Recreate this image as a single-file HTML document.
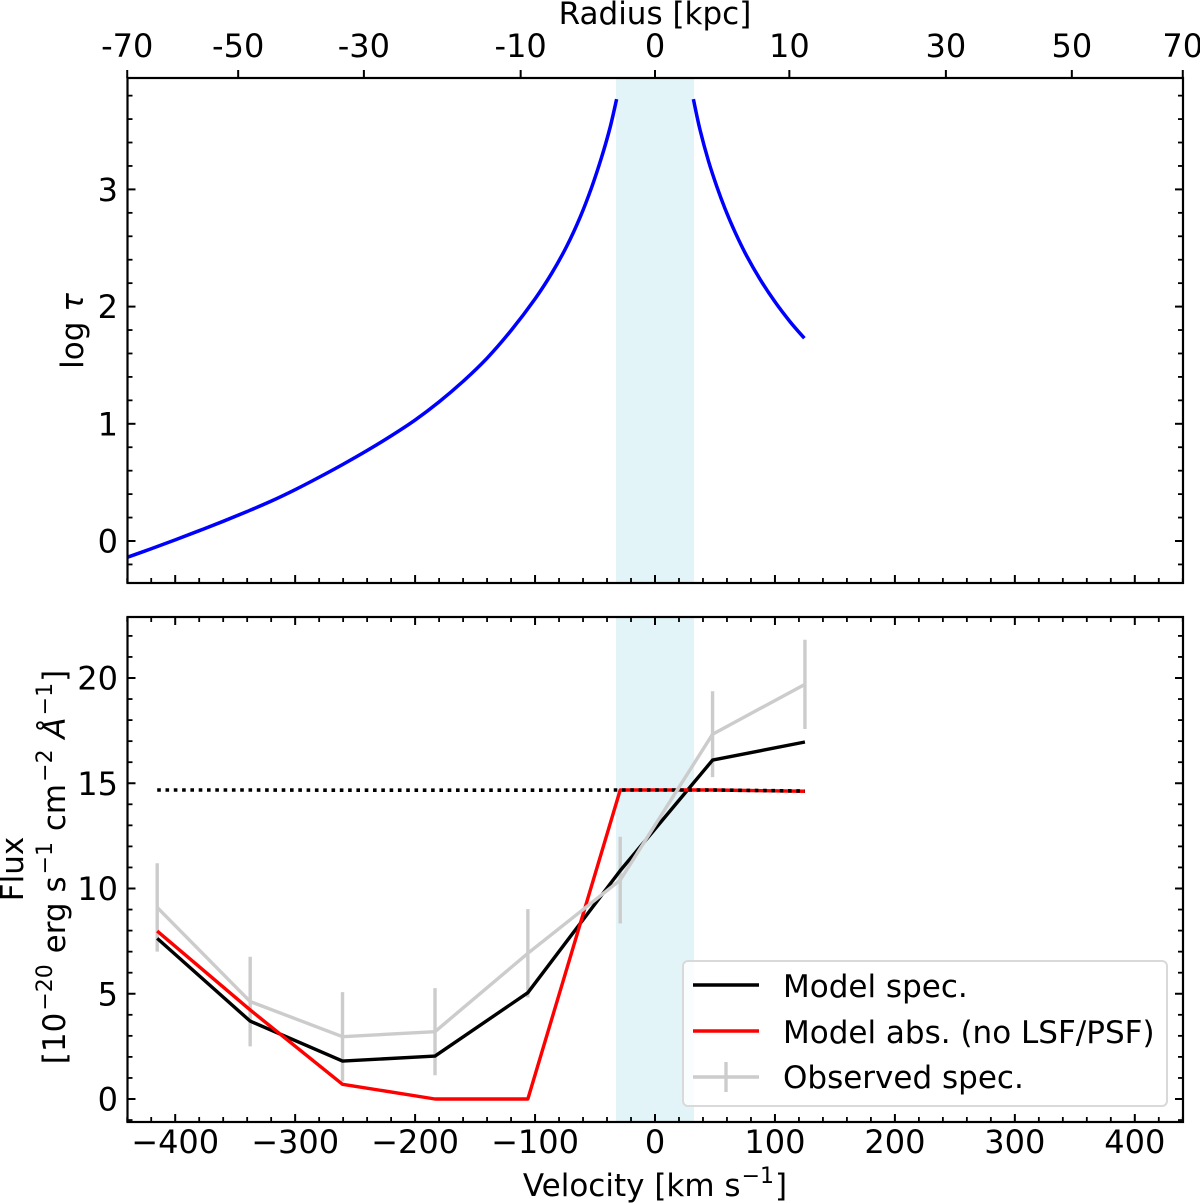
<!DOCTYPE html>
<html lang="en">
<head>
<meta charset="utf-8">
<title>Optical depth and flux versus velocity</title>
<style>
html,body{margin:0;padding:0;background:#fff;}
svg{display:block;}
text{font-family:"DejaVu Sans","Liberation Sans",sans-serif;font-size:32px;fill:#000;}
text.lab{font-size:31px;}
</style>
</head>
<body>
<svg id="chart" xmlns="http://www.w3.org/2000/svg" width="1200" height="1203" viewBox="0 0 1200 1203">
  <g id="layer-shade"></g>
  <g id="layer-series"></g>
  <g id="layer-axes"></g>
  <g id="layer-labels">
    <text class="lab" x="655" y="24" text-anchor="middle">Radius [kpc]</text>
    <text class="lab" x="655" y="1196" text-anchor="middle">Velocity [km s<tspan dy="-13" dx="1" font-size="22">−1</tspan><tspan dy="13" dx="1">]</tspan></text>
    <text class="lab" transform="translate(83,331) rotate(-90)" text-anchor="middle">log <tspan font-style="italic">τ</tspan></text>
    <text class="lab" transform="translate(23,869) rotate(-90)" text-anchor="middle">Flux</text>
    <text class="lab" transform="translate(65,867) rotate(-90)" text-anchor="middle">[10<tspan dy="-13" dx="2" font-size="22">−20</tspan><tspan dy="13" dx="1"> erg s</tspan><tspan dy="-13" dx="2" font-size="22">−1</tspan><tspan dy="13" dx="1"> cm</tspan><tspan dy="-13" dx="2" font-size="22">−2</tspan><tspan dy="13" font-style="italic" dx="1"> Å</tspan><tspan dy="-13" dx="2" font-size="22">−1</tspan><tspan dy="13" dx="1">]</tspan></text>
  </g>
  <g id="legend">
    <rect x="683" y="961" width="484" height="145" rx="5" ry="5" fill="#fff" fill-opacity="0.8" stroke="#d9d9d9" stroke-width="2"/>
    <line x1="693" y1="985" x2="759" y2="985" stroke="#000" stroke-width="3.4"/>
    <text class="lab" x="783" y="997">Model spec.</text>
    <line x1="693" y1="1031" x2="759" y2="1031" stroke="#f00" stroke-width="3.4"/>
    <text class="lab" x="783" y="1043">Model abs. (no LSF/PSF)</text>
    <line x1="693" y1="1077" x2="759" y2="1077" stroke="#ccc" stroke-width="3.4"/>
    <line x1="726" y1="1062" x2="726" y2="1092" stroke="#ccc" stroke-width="3.4"/>
    <text class="lab" x="783" y="1088">Observed spec.</text>
  </g>
</svg>
<script>
// Tick labels
const velocityTicks = [-400, -300, -200, -100, 0, 100, 200, 300, 400];
const radiusTickLabels = ['-70', '-50', '-30', '-10', '0', '10', '30', '50', '70'];
const radiusTickVelocities = [-440, -347.5, -242.7, -112, 0, 112, 242.5, 347.5, 440];
const tauTicks = [0, 1, 2, 3];
const fluxTicks = [0, 5, 10, 15, 20];

// Shaded central region, km/s
const shadeRange = [-32.5, 32.5];

// Upper panel: log optical depth against velocity
const tauLeftVelocity = [-440, -420, -400, -380, -360, -340, -320, -300, -280, -260, -240, -220, -200, -180, -160, -140, -120, -100, -86, -73.6, -62.5, -52.8, -44.5, -37.5, -32];
const tauLeftValues = [-0.139, -0.066, 0.01, 0.088, 0.168, 0.252, 0.34, 0.438, 0.544, 0.655, 0.772, 0.897, 1.032, 1.187, 1.362, 1.56, 1.796, 2.066, 2.286, 2.515, 2.761, 3.018, 3.275, 3.526, 3.77];
const tauRightVelocity = [32, 37.5, 44.5, 51.5, 58.4, 66.7, 76.5, 87.6, 100, 112.6, 124.5];
const tauRightValues = [3.77, 3.51, 3.245, 3.025, 2.835, 2.636, 2.431, 2.233, 2.041, 1.871, 1.73];

// Lower panel: spectra
const specVelocity = [-415, -337.5, -260.5, -183.4, -106, -29, 48, 125];
const modelSpec = [7.63, 3.7, 1.8, 2.04, 5.05, 10.85, 16.1, 16.96];
const modelAbs = [7.98, 4.23, 0.7, 0, 0, 14.68, 14.68, 14.62];
const continuum = [14.68, 14.68, 14.67, 14.67, 14.67, 14.68, 14.68, 14.63];
const observedSpec = [9.1, 4.63, 2.96, 3.2, 6.92, 10.4, 17.33, 19.7];
const observedErr = [2.1, 2.13, 2.12, 2.07, 2.1, 2.06, 2.04, 2.12];

const SVGNS = 'http://www.w3.org/2000/svg';
const plotLeft = 127.5, plotRight = 1183;
const topPanel = {top: 78, bottom: 583};
const lowPanel = {top: 617, bottom: 1122};

function xScale(v) { return 655 + v * 1.1995; }
function tauY(t) { return 541 - t * 117.2; }
function fluxY(f) { return 1099 - f * 21.05; }

const shadeLayer = document.getElementById('layer-shade');
const seriesLayer = document.getElementById('layer-series');
const axesLayer = document.getElementById('layer-axes');

function make(tag, attrs, parent) {
  const el = document.createElementNS(SVGNS, tag);
  for (const k in attrs) el.setAttribute(k, attrs[k]);
  parent.appendChild(el);
  return el;
}
function tick(name, x1, y1, x2, y2, width) {
  const el = make('line', {x1: x1, y1: y1, x2: x2, y2: y2, stroke: '#000', 'stroke-width': width}, axesLayer);
  
  
}
function label(name, x, y, anchor, content) {
  const el = make('text', {x: x, y: y, 'text-anchor': anchor}, axesLayer);
  el.textContent = content;
  
  
}
function series(name, xs, ys, yFn, color, width, dash) {
  const pts = xs.map(function (v, i) { return xScale(v).toFixed(2) + ',' + yFn(ys[i]).toFixed(2); }).join(' ');
  const el = make('polyline', {points: pts, fill: 'none', stroke: color, 'stroke-width': width, 'stroke-linejoin': 'round'}, seriesLayer);
  if (dash) el.setAttribute('stroke-dasharray', dash);
  
  
}
function smoothSeries(name, xs, ys, yFn, color, width) {
  const p = xs.map(function (v, i) { return [xScale(v), yFn(ys[i])]; });
  let d = 'M' + p[0][0].toFixed(2) + ' ' + p[0][1].toFixed(2);
  for (let i = 0; i < p.length - 1; i++) {
    const a = p[Math.max(i - 1, 0)], b = p[i], c = p[i + 1], e = p[Math.min(i + 2, p.length - 1)];
    const c1x = b[0] + (c[0] - a[0]) / 6, c1y = b[1] + (c[1] - a[1]) / 6;
    const c2x = c[0] - (e[0] - b[0]) / 6, c2y = c[1] - (e[1] - b[1]) / 6;
    d += 'C' + c1x.toFixed(2) + ' ' + c1y.toFixed(2) + ' ' + c2x.toFixed(2) + ' ' + c2y.toFixed(2) + ' ' + c[0].toFixed(2) + ' ' + c[1].toFixed(2);
  }
  const el = make('path', {d: d, fill: 'none', stroke: color, 'stroke-width': width}, seriesLayer);
  
  
}

// Shading in both panels
[topPanel, lowPanel].forEach(function (p, idx) {
  const r = make('rect', {x: xScale(shadeRange[0]), y: p.top, width: xScale(shadeRange[1]) - xScale(shadeRange[0]), height: p.bottom - p.top, fill: '#e2f4f8'}, shadeLayer);
  
  
});

// Upper panel curves
smoothSeries('tau-curve-left', tauLeftVelocity, tauLeftValues, tauY, '#0000ff', 3.5);
smoothSeries('tau-curve-right', tauRightVelocity, tauRightValues, tauY, '#0000ff', 3.5);

// Lower panel error bars, then lines
specVelocity.forEach(function (v, i) {
  const bar = make('line', {x1: xScale(v), x2: xScale(v), y1: fluxY(observedSpec[i] + observedErr[i]), y2: fluxY(observedSpec[i] - observedErr[i]), stroke: '#ccc', 'stroke-width': 3.4}, seriesLayer);
  
  
});
series('model-spec-line', specVelocity, modelSpec, fluxY, '#000', 3.4);
series('model-abs-line', specVelocity, modelAbs, fluxY, '#f00', 3.4);
series('continuum-dotted-line', specVelocity, continuum, fluxY, '#000', 3.6, '3.6 4.7');
series('observed-spec-line', specVelocity, observedSpec, fluxY, '#ccc', 3.4);

// X minor and major ticks on the inner panel edges
for (let v = -440; v <= 440; v += 20) {
  const x = xScale(v);
  const major = v % 100 === 0;
  const len = major ? 8 : 5;
  const w = major ? 2 : 1.8;
  tick('tau-panel-bottom-tick', x, topPanel.bottom, x, topPanel.bottom - len, w);
  tick('flux-panel-top-tick', x, lowPanel.top, x, lowPanel.top + len, w);
  tick('flux-panel-bottom-tick', x, lowPanel.bottom, x, lowPanel.bottom - len, w);
}

// Velocity tick labels
velocityTicks.forEach(function (v) {
  label('velocity-tick-label', xScale(v), 1153, 'middle', String(v).replace('-', '\u2212'));
});

// Radius ticks, outward on top
radiusTickVelocities.forEach(function (v, i) {
  const x = xScale(v);
  tick('radius-tick', x, topPanel.top, x, topPanel.top - 8, 2);
  label('radius-tick-label', x, 57, 'middle', radiusTickLabels[i]);
});

// Tau axis ticks
for (let i = -1; i <= 19; i++) {
  const t = i / 5;
  const y = tauY(t);
  const major = i % 5 === 0;
  const len = major ? 8 : 5;
  const w = major ? 2 : 1.8;
  tick('tau-left-tick', plotLeft, y, plotLeft + len, y, w);
  tick('tau-right-tick', plotRight, y, plotRight - len, y, w);
}
tauTicks.forEach(function (t) {
  label('tau-tick-label', 118, tauY(t) + 11.5, 'end', String(t));
});

// Flux axis ticks
for (let f = -1; f <= 22; f++) {
  const y = fluxY(f);
  const major = f % 5 === 0;
  const len = major ? 8 : 5;
  const w = major ? 2 : 1.8;
  tick('flux-left-tick', plotLeft, y, plotLeft + len, y, w);
  tick('flux-right-tick', plotRight, y, plotRight - len, y, w);
}
fluxTicks.forEach(function (f) {
  label('flux-tick-label', 118, fluxY(f) + 11.5, 'end', String(f));
});

// Panel frames
[topPanel, lowPanel].forEach(function (p, idx) {
  const frame = make('rect', {x: plotLeft, y: p.top, width: plotRight - plotLeft, height: p.bottom - p.top, fill: 'none', stroke: '#000', 'stroke-width': 2.2}, axesLayer);
  
  
});
</script>
</body>
</html>
